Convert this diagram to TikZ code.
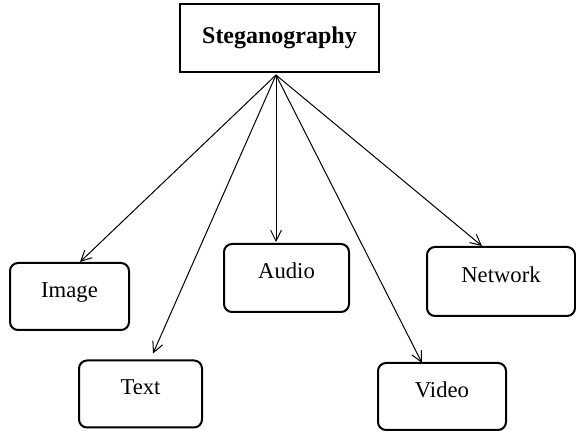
\documentclass[tikz,border=0pt]{standalone}
\usepackage{fontspec}
\setmainfont{Liberation Serif}
\usetikzlibrary{arrows.meta,positioning,calc}

\begin{document}
\begin{tikzpicture}[
        x=0.75pt, y=-0.75pt,
        every node/.style={draw, line width=1.5pt, align=center, font=\fontsize{17}{20}\selectfont},
        every path/.style={line width=0.75pt},
        root/.style={minimum width=199*0.75pt, minimum height=68*0.75pt, font=\fontsize{18}{21}\selectfont\bfseries},
        leaf/.style={rounded corners=6pt, minimum height=67*0.75pt, text height=12pt, text depth=11pt},
        >={Straight Barb[length=8pt,width=8pt]}
    ]
    \useasboundingbox (0,0) rectangle (576,431);

    % Nodes
    \node[root] (steg) at (279.5,38) {Steganography};
    \coordinate (hub) at (276,75);

    \node[leaf, minimum width=119*0.75pt] (image) at (69.5,296.5) {Image};
    \node[leaf, minimum width=123*0.75pt] (text) at (140.5,394) {Text};
    \node[leaf, minimum width=125*0.75pt, minimum height=68*0.75pt] (audio) at (286.5,278) {Audio};
    \node[leaf, minimum width=128*0.75pt] (video) at (442,396.5) {Video};
    \node[leaf, minimum width=148*0.75pt, minimum height=69*0.75pt] (network) at (501,281.5) {Network};

    % Edges
    \draw[->] (hub) -- ($(image.north)+(10.5,0)$);
    \draw[->] (hub) -- ($(text.north)+(12.5,-6)$);
    \draw[->] (hub) -- ($(audio.north)+(-10.5,-1)$);
    \draw[->] (hub) -- ($(video.north)+(-20,1)$);
    \draw[->] (hub) -- ($(network.north)+(-19,0)$);

\end{tikzpicture}
\end{document}
